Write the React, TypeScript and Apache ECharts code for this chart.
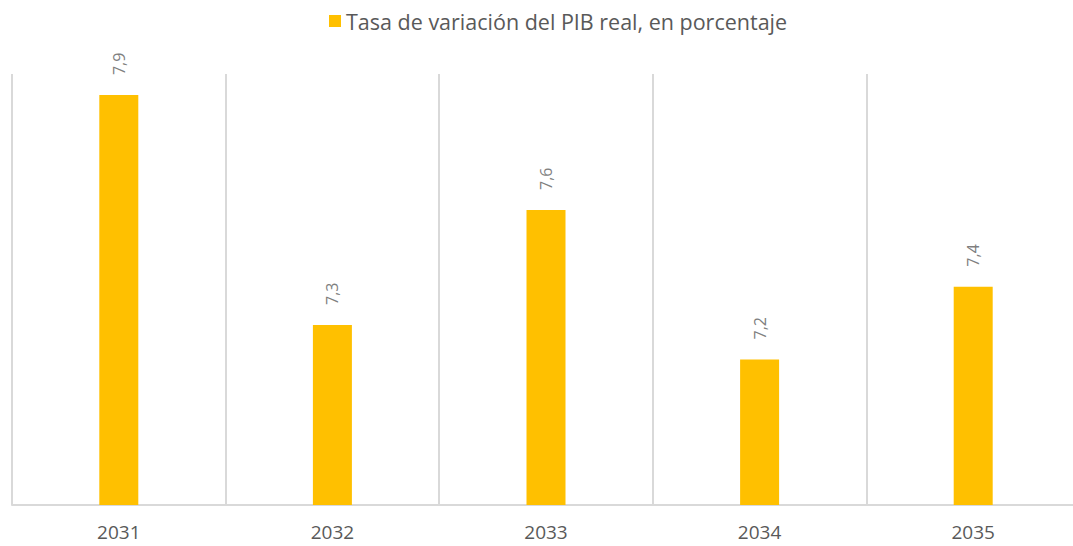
import React, { useEffect, useRef } from "react";
import * as echarts from "echarts";

const categories = ["2031", "2032", "2033", "2034", "2035"];
const values = [7.9, 7.3, 7.6, 7.21, 7.4];
const seriesName = "Tasa de variación del PIB real, en porcentaje";

export default function App() {
  const ref = useRef<HTMLDivElement>(null);
  useEffect(() => {
    if (!ref.current) return;
    const chart = echarts.init(ref.current, null, { renderer: "svg" });
    chart.setOption({
      animation: false,
      backgroundColor: "#ffffff",
      legend: {
        top: 5,
        left: 324,
        itemWidth: 12,
        itemHeight: 12,
        itemGap: 6,
        icon: "rect",
        textStyle: { color: "#595959", fontSize: 21.5, fontFamily: "Open Sans", padding: [0, 0, 0, 0] },
        data: [seriesName],
      },
      grid: { left: 12, width: 1068, top: 74, bottom: 41, containLabel: false },
      xAxis: {
        type: "category",
        data: categories,
        axisLine: { show: true, lineStyle: { color: "#d9d9d9", width: 2 } },
        axisTick: { show: false },
        splitLine: { show: true, lineStyle: { color: "#d9d9d9", width: 2 } },
        axisLabel: {
          color: "#595959",
          fontSize: 19,
          fontFamily: "Open Sans",
          margin: 17,
        },
      },
      yAxis: {
        type: "value",
        min: 6.83,
        max: 7.955,
        show: false,
        splitLine: { show: false },
      },
      series: [
        {
          name: seriesName,
          type: "bar",
          data: values,
          barWidth: 39,
          itemStyle: { color: "#FFC000" },
          label: {
            show: true,
            position: "top",
            distance: 20,
            rotate: 90,
            align: "left",
            verticalAlign: "middle",
            color: "#7f7f7f",
            fontSize: 16,
            fontFamily: "Open Sans",
            formatter: (p: any) => p.value.toFixed(1).replace(".", ","),
          },
        },
      ],
    });
    return () => chart.dispose();
  }, []);
  return (
    <div style={{ position: "fixed", left: 0, top: 0, width: 1073, height: 546, overflow: "hidden", background: "#fff" }}>
      <div ref={ref} style={{ width: 1100, height: 546 }} />
    </div>
  );
}
